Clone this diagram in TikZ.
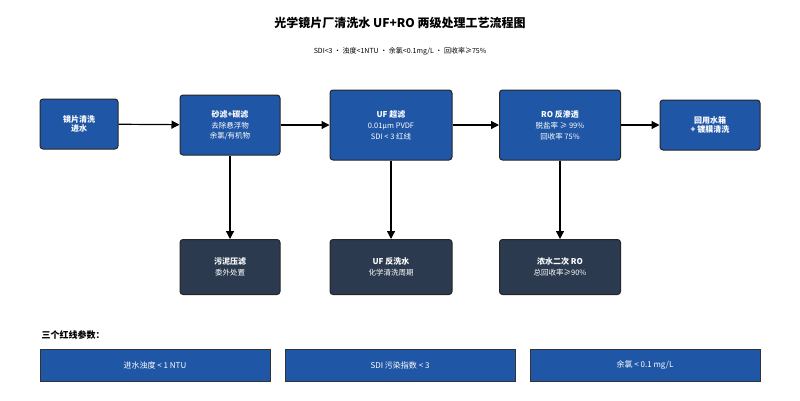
\documentclass[tikz,border=0pt]{standalone}
\usepackage{fontspec}
\setmainfont{Noto Sans CJK SC}
\usetikzlibrary{arrows.meta}
\definecolor{procblue}{HTML}{1F56A5}
\definecolor{sidegray}{HTML}{2B3A4F}
\tikzstyle{proc} = [draw=black!85, line width=1pt, rounded corners=3pt, fill=procblue, text=white, align=center, font=\footnotesize\bfseries]
\tikzstyle{side} = [proc, fill=sidegray, minimum width=100pt, minimum height=55pt]
\tikzstyle{param} = [draw=black!80, fill=procblue, text=white, minimum width=230pt, minimum height=32pt, font=\footnotesize]
\tikzstyle{flow} = [-{Triangle[length=8pt,width=8pt]}, line width=1.2pt]
\newcommand{\subtxt}{\fontsize{7.5}{9}\selectfont\mdseries}

\begin{document}
\begin{tikzpicture}[x=1pt,y=-1pt]
	\useasboundingbox (0,0) rectangle (800,400);
	\node[font=\large\bfseries] (title) at (400,23) {光学镜片厂清洗水 UF+RO 两级处理工艺流程图};
	\node[font=\scriptsize] (subtitle) at (400,51) {SDI<3 · 浊度<1NTU · 余氯<0.1mg/L · 回收率≥75\%};
	% main line
	\node[proc, minimum width=78pt, minimum height=50pt] (feed) at (79,124) {镜片清洗\\进水};
	\node[proc, minimum width=100pt, minimum height=60pt] (sand) at (230,125) {砂滤+碳滤\\[2pt]{\subtxt 去除悬浮物}\\{\subtxt 余氯/有机物}};
	\node[proc, minimum width=122pt, minimum height=70pt] (uf) at (391,125) {UF 超滤\\[2pt]{\subtxt 0.01μm PVDF}\\[1pt]{\subtxt SDI < 3 红线}};
	\node[proc, minimum width=121pt, minimum height=70pt] (ro) at (560,125) {RO 反渗透\\[2pt]{\subtxt 脱盐率 ≥ 99\%}\\[1pt]{\subtxt 回收率 75\%}};
	\node[proc, minimum width=100pt, minimum height=50pt] (tank) at (710,125) {回用水箱\\+ 镀膜清洗};
	\draw[flow] (feed) -- (sand);
	\draw[flow] (sand) -- (uf);
	\draw[flow] (uf) -- (ro);
	\draw[flow] (ro) -- (tank);
	% side outlets
	\node[side] (sludge) at (230,267) {污泥压滤\\[2pt]{\subtxt 委外处置}};
	\node[side, minimum width=122pt] (backwash) at (391,267) {UF 反洗水\\[2pt]{\subtxt 化学清洗周期}};
	\node[side, minimum width=121pt] (conc) at (560,267) {浓水二次 RO\\[2pt]{\subtxt 总回收率≥90\%}};
	\draw[flow] (sand) -- (sludge);
	\draw[flow] (uf) -- (backwash);
	\draw[flow] (ro) -- (conc);
	% red-line parameters
	\node[anchor=west, font=\small\bfseries] (plabel) at (38,335) {三个红线参数：};
	\node[param] (p1) at (155,365) {进水浊度 < 1 NTU};
	\node[param] (p2) at (400,365) {SDI 污染指数 < 3};
	\node[param] (p3) at (645,365) {余氯 < 0.1 mg/L};
\end{tikzpicture}
\end{document}
